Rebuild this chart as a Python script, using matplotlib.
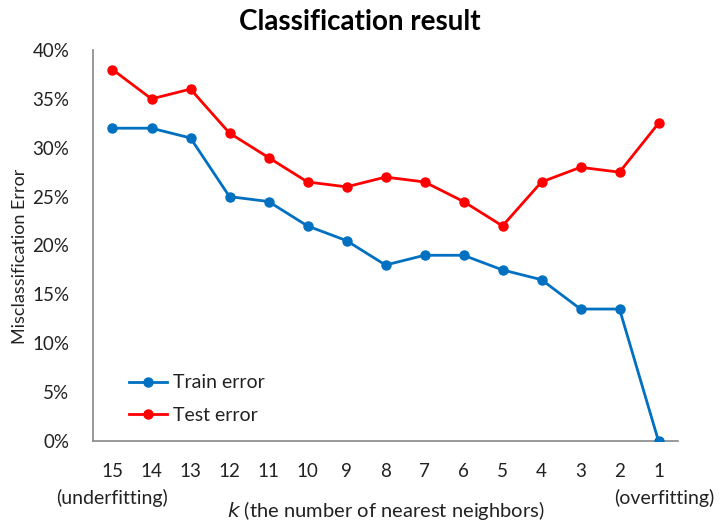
import matplotlib
matplotlib.use("Agg")
import matplotlib.pyplot as plt
from matplotlib.ticker import FuncFormatter

plt.rcParams['font.family'] = ['Lato', 'DejaVu Sans']

k_labels = ["15", "14", "13", "12", "11", "10", "9", "8", "7", "6", "5", "4", "3", "2", "1"]
train_error = [0.32, 0.32, 0.31, 0.25, 0.245, 0.22, 0.205, 0.18, 0.19, 0.19, 0.175, 0.165, 0.135, 0.135, 0.0]
test_error = [0.38, 0.35, 0.36, 0.315, 0.29, 0.265, 0.26, 0.27, 0.265, 0.245, 0.22, 0.265, 0.28, 0.275, 0.325]
y_ticks = [0, 0.05, 0.10, 0.15, 0.20, 0.25, 0.30, 0.35, 0.40]

fig = plt.figure(figsize=(7.23, 5.29), dpi=100)
ax = fig.add_axes([93/723, 1 - 441/529, (678-93)/723, (441-50)/529])

x = list(range(len(k_labels)))
ax.plot(x, train_error, color='#0070C0', lw=2, marker='o', ms=6.5, label='Train error')
ax.plot(x, test_error, color='#FF0000', lw=2, marker='o', ms=6.5, label='Test error')

ax.set_xlim(-0.5, len(k_labels) - 0.5)
ax.set_ylim(0, 0.40)
ax.set_yticks(y_ticks)
ax.yaxis.set_major_formatter(FuncFormatter(lambda v, p: f"{v*100:.0f}%"))
ax.set_xticks(x)
ax.set_xticklabels(k_labels)
ax.tick_params(length=0, labelsize=13.5, colors='#222222')
ax.tick_params(axis='x', pad=16)
ax.tick_params(axis='y', pad=17)
for s in ['top', 'right']:
    ax.spines[s].set_visible(False)
for s in ['left', 'bottom']:
    ax.spines[s].set_color('#888888')
    ax.spines[s].set_linewidth(1.2)
    ax.spines[s].set_zorder(0.5)

fig.text(360/723, 1 - 22/529, "Classification result", ha='center', va='center',
         fontsize=20, fontweight='bold', color='black')
fig.text(20/723, 1 - 256/529, "Misclassification Error", ha='center', va='center',
         rotation=90, fontsize=13, color='#222222')
fig.text(112/723, 1 - 498/529, "(underfitting)", ha='center', va='center', fontsize=14, color='#222222')
fig.text(664/723, 1 - 498/529, "(overfitting)", ha='center', va='center', fontsize=14, color='#222222')
fig.text(386/723, 1 - 511/529, r"$\it{k}$ (the number of nearest neighbors)", ha='center', va='center',
         fontsize=14.5, color='#222222')

ax.legend(loc='upper left', bbox_to_anchor=(111/723, 1 - 357/529), bbox_transform=fig.transFigure,
          frameon=False, fontsize=14, handlelength=2.0, handletextpad=0.3, labelspacing=0.8,
          labelcolor='#222222')

fig.savefig("out.png", dpi=100)
